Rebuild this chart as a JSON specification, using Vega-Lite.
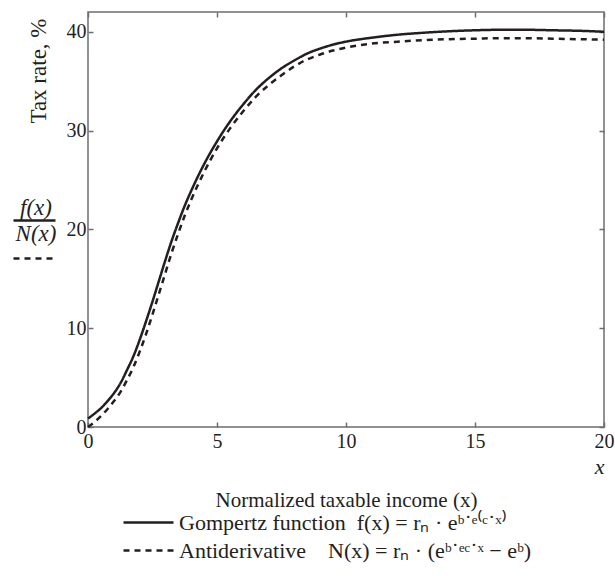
{
  "$schema": "https://vega.github.io/schema/vega-lite/v6.json",
  "width": 516,
  "height": 415,
  "autosize": "none",
  "padding": {"left": 88, "top": 12, "right": 11, "bottom": 149},
  "background": "white",
  "config": {
    "font": "Liberation Serif",
    "view": {"stroke": "#6d6e71", "strokeWidth": 1.5},
    "axis": {
      "domain": false,
      "grid": false,
      "tickColor": "#6d6e71",
      "tickWidth": 1.5,
      "tickSize": -5,
      "labelFont": "Liberation Serif",
      "labelFontSize": 20,
      "labelColor": "#231f20",
      "titleFont": "Liberation Serif",
      "titleFontSize": 21,
      "titleFontWeight": "normal",
      "titleColor": "#231f20",
      "labelOverlap": false,
      "labelFlush": false
    }
  },
  "data": {
    "values": [
      {"x": 0, "y": 0.85, "series": "g", "curve": "Gompertz", "fn": "f(x)"},
      {"x": 0.25, "y": 1.35, "series": "g", "curve": "Gompertz", "fn": "f(x)"},
      {"x": 0.5, "y": 1.9, "series": "g", "curve": "Gompertz", "fn": "f(x)"},
      {"x": 0.75, "y": 2.6, "series": "g", "curve": "Gompertz", "fn": "f(x)"},
      {"x": 1, "y": 3.4, "series": "g", "curve": "Gompertz", "fn": "f(x)"},
      {"x": 1.25, "y": 4.4, "series": "g", "curve": "Gompertz", "fn": "f(x)"},
      {"x": 1.5, "y": 5.7, "series": "g", "curve": "Gompertz", "fn": "f(x)"},
      {"x": 1.75, "y": 7.1, "series": "g", "curve": "Gompertz", "fn": "f(x)"},
      {"x": 2, "y": 8.8, "series": "g", "curve": "Gompertz", "fn": "f(x)"},
      {"x": 2.25, "y": 10.7, "series": "g", "curve": "Gompertz", "fn": "f(x)"},
      {"x": 2.5, "y": 12.7, "series": "g", "curve": "Gompertz", "fn": "f(x)"},
      {"x": 2.75, "y": 14.8, "series": "g", "curve": "Gompertz", "fn": "f(x)"},
      {"x": 3, "y": 16.9, "series": "g", "curve": "Gompertz", "fn": "f(x)"},
      {"x": 3.25, "y": 18.9, "series": "g", "curve": "Gompertz", "fn": "f(x)"},
      {"x": 3.5, "y": 20.7, "series": "g", "curve": "Gompertz", "fn": "f(x)"},
      {"x": 3.75, "y": 22.4, "series": "g", "curve": "Gompertz", "fn": "f(x)"},
      {"x": 4, "y": 23.9, "series": "g", "curve": "Gompertz", "fn": "f(x)"},
      {"x": 4.5, "y": 26.6, "series": "g", "curve": "Gompertz", "fn": "f(x)"},
      {"x": 5, "y": 28.9, "series": "g", "curve": "Gompertz", "fn": "f(x)"},
      {"x": 5.5, "y": 30.9, "series": "g", "curve": "Gompertz", "fn": "f(x)"},
      {"x": 6, "y": 32.6, "series": "g", "curve": "Gompertz", "fn": "f(x)"},
      {"x": 6.5, "y": 34.1, "series": "g", "curve": "Gompertz", "fn": "f(x)"},
      {"x": 7, "y": 35.3, "series": "g", "curve": "Gompertz", "fn": "f(x)"},
      {"x": 7.5, "y": 36.3, "series": "g", "curve": "Gompertz", "fn": "f(x)"},
      {"x": 8, "y": 37.1, "series": "g", "curve": "Gompertz", "fn": "f(x)"},
      {"x": 8.5, "y": 37.8, "series": "g", "curve": "Gompertz", "fn": "f(x)"},
      {"x": 9, "y": 38.3, "series": "g", "curve": "Gompertz", "fn": "f(x)"},
      {"x": 9.5, "y": 38.7, "series": "g", "curve": "Gompertz", "fn": "f(x)"},
      {"x": 10, "y": 39.0, "series": "g", "curve": "Gompertz", "fn": "f(x)"},
      {"x": 11, "y": 39.4, "series": "g", "curve": "Gompertz", "fn": "f(x)"},
      {"x": 12, "y": 39.7, "series": "g", "curve": "Gompertz", "fn": "f(x)"},
      {"x": 13, "y": 39.9, "series": "g", "curve": "Gompertz", "fn": "f(x)"},
      {"x": 14, "y": 40.05, "series": "g", "curve": "Gompertz", "fn": "f(x)"},
      {"x": 15, "y": 40.15, "series": "g", "curve": "Gompertz", "fn": "f(x)"},
      {"x": 16, "y": 40.2, "series": "g", "curve": "Gompertz", "fn": "f(x)"},
      {"x": 17, "y": 40.2, "series": "g", "curve": "Gompertz", "fn": "f(x)"},
      {"x": 18, "y": 40.15, "series": "g", "curve": "Gompertz", "fn": "f(x)"},
      {"x": 19, "y": 40.1, "series": "g", "curve": "Gompertz", "fn": "f(x)"},
      {"x": 20, "y": 40.0, "series": "g", "curve": "Gompertz", "fn": "f(x)"},
      {"x": 0, "y": 0.0, "series": "a", "curve": "Antiderivative", "fn": "N(x)"},
      {"x": 0.25, "y": 0.5, "series": "a", "curve": "Antiderivative", "fn": "N(x)"},
      {"x": 0.5, "y": 1.1, "series": "a", "curve": "Antiderivative", "fn": "N(x)"},
      {"x": 0.75, "y": 1.8, "series": "a", "curve": "Antiderivative", "fn": "N(x)"},
      {"x": 1, "y": 2.6, "series": "a", "curve": "Antiderivative", "fn": "N(x)"},
      {"x": 1.25, "y": 3.5, "series": "a", "curve": "Antiderivative", "fn": "N(x)"},
      {"x": 1.5, "y": 4.7, "series": "a", "curve": "Antiderivative", "fn": "N(x)"},
      {"x": 1.75, "y": 6.0, "series": "a", "curve": "Antiderivative", "fn": "N(x)"},
      {"x": 2, "y": 7.6, "series": "a", "curve": "Antiderivative", "fn": "N(x)"},
      {"x": 2.25, "y": 9.4, "series": "a", "curve": "Antiderivative", "fn": "N(x)"},
      {"x": 2.5, "y": 11.4, "series": "a", "curve": "Antiderivative", "fn": "N(x)"},
      {"x": 2.75, "y": 13.5, "series": "a", "curve": "Antiderivative", "fn": "N(x)"},
      {"x": 3, "y": 15.6, "series": "a", "curve": "Antiderivative", "fn": "N(x)"},
      {"x": 3.25, "y": 17.7, "series": "a", "curve": "Antiderivative", "fn": "N(x)"},
      {"x": 3.5, "y": 19.6, "series": "a", "curve": "Antiderivative", "fn": "N(x)"},
      {"x": 3.75, "y": 21.4, "series": "a", "curve": "Antiderivative", "fn": "N(x)"},
      {"x": 4, "y": 23.0, "series": "a", "curve": "Antiderivative", "fn": "N(x)"},
      {"x": 4.5, "y": 25.8, "series": "a", "curve": "Antiderivative", "fn": "N(x)"},
      {"x": 5, "y": 28.2, "series": "a", "curve": "Antiderivative", "fn": "N(x)"},
      {"x": 5.5, "y": 30.2, "series": "a", "curve": "Antiderivative", "fn": "N(x)"},
      {"x": 6, "y": 31.9, "series": "a", "curve": "Antiderivative", "fn": "N(x)"},
      {"x": 6.5, "y": 33.4, "series": "a", "curve": "Antiderivative", "fn": "N(x)"},
      {"x": 7, "y": 34.6, "series": "a", "curve": "Antiderivative", "fn": "N(x)"},
      {"x": 7.5, "y": 35.6, "series": "a", "curve": "Antiderivative", "fn": "N(x)"},
      {"x": 8, "y": 36.5, "series": "a", "curve": "Antiderivative", "fn": "N(x)"},
      {"x": 8.5, "y": 37.2, "series": "a", "curve": "Antiderivative", "fn": "N(x)"},
      {"x": 9, "y": 37.7, "series": "a", "curve": "Antiderivative", "fn": "N(x)"},
      {"x": 9.5, "y": 38.1, "series": "a", "curve": "Antiderivative", "fn": "N(x)"},
      {"x": 10, "y": 38.4, "series": "a", "curve": "Antiderivative", "fn": "N(x)"},
      {"x": 11, "y": 38.8, "series": "a", "curve": "Antiderivative", "fn": "N(x)"},
      {"x": 12, "y": 39.0, "series": "a", "curve": "Antiderivative", "fn": "N(x)"},
      {"x": 13, "y": 39.15, "series": "a", "curve": "Antiderivative", "fn": "N(x)"},
      {"x": 14, "y": 39.25, "series": "a", "curve": "Antiderivative", "fn": "N(x)"},
      {"x": 15, "y": 39.3, "series": "a", "curve": "Antiderivative", "fn": "N(x)"},
      {"x": 16, "y": 39.35, "series": "a", "curve": "Antiderivative", "fn": "N(x)"},
      {"x": 17, "y": 39.35, "series": "a", "curve": "Antiderivative", "fn": "N(x)"},
      {"x": 18, "y": 39.3, "series": "a", "curve": "Antiderivative", "fn": "N(x)"},
      {"x": 19, "y": 39.25, "series": "a", "curve": "Antiderivative", "fn": "N(x)"},
      {"x": 20, "y": 39.2, "series": "a", "curve": "Antiderivative", "fn": "N(x)"}
    ]
  },
  "layer": [
    {
      "mark": {"type": "line", "color": "#231f20", "interpolate": "monotone"},
      "encoding": {
        "x": {
          "field": "x", "type": "quantitative",
          "scale": {"domain": [0, 20], "nice": false, "zero": false},
          "axis": {
            "orient": "bottom", "values": [0, 5, 10, 15, 20], "format": "d",
            "labelPadding": 9,
            "title": "Normalized taxable income (x)", "titleAnchor": null, "titleAlign": "center",
            "titleBaseline": "middle", "titleX": 258, "titleY": 73
          }
        },
        "y": {
          "field": "y", "type": "quantitative",
          "scale": {"domain": [0, 42], "nice": false, "zero": false},
          "axis": {
            "orient": "left", "values": [0, 10, 20, 30, 40], "format": "d",
            "labelPadding": 7,
            "title": "Tax rate, %", "titleFontSize": 23, "titleAnchor": "end", "titleAlign": "right", "titleBaseline": "middle",
            "titleAngle": -90, "titleX": -50, "titleY": 6
          }
        },
        "strokeDash": {
          "field": "series", "type": "nominal",
          "scale": {"domain": ["g", "a"], "range": [[1, 0], [6, 5]]},
          "legend": {
            "values": ["g"],
            "orient": "none", "legendX": 34, "legendY": 484, "title": null, "padding": 0,
            "symbolType": "stroke", "symbolSize": 2500, "symbolStrokeWidth": 2.5, "symbolStrokeColor": "#231f20",
            "labelFont": "Liberation Serif", "labelFontSize": 22, "labelColor": "#231f20", "labelOffset": 4,
            "labelLimit": 600,
            "labelExpr": "'Gompertz function\u00a0\u00a0f(x) = rₙ · eᵇ˙ᵉ⁽ᶜ˙ˣ⁾'"
          }
        },
        "strokeWidth": {
          "field": "curve", "type": "nominal",
          "scale": {"domain": ["Gompertz", "Antiderivative"], "range": [2.5, 2.5]},
          "legend": {
            "values": ["Antiderivative"],
            "orient": "none", "legendX": 34, "legendY": 512, "title": null, "padding": 0,
            "symbolType": "stroke", "symbolSize": 2500, "symbolStrokeColor": "#231f20", "symbolDash": [6, 5],
            "labelFont": "Liberation Serif", "labelFontSize": 22, "labelColor": "#231f20", "labelOffset": 4,
            "labelLimit": 600,
            "labelExpr": "'Antiderivative\u00a0\u00a0\u00a0\u00a0N(x) = rₙ · (eᵇ˙ᵉᶜ˙ˣ − eᵇ)'"
          }
        },
        "opacity": {
          "field": "fn", "type": "nominal",
          "scale": {"domain": ["f(x)", "N(x)"], "range": [1, 1]},
          "legend": {
            "orient": "none", "legendX": -76, "legendY": 186, "title": null, "padding": 0,
            "symbolType": "stroke", "symbolSize": 1764, "symbolStrokeWidth": 2.5, "symbolStrokeColor": "#231f20",
            "labelFont": "Liberation Serif", "labelFontSize": 23, "labelFontStyle": "italic", "labelColor": "#231f20",
            "labelOffset": 0, "labelAlign": "center", "rowPadding": -4,
            "encode": {
              "labels": {"update": {"dx": {"value": -21}, "dy": {"signal": "datum.index === 0 ? -13 : -25"}}},
              "symbols": {"update": {"strokeDash": {"signal": "datum.index === 1 ? [6, 5] : [1, 0]"}}}
            }
          }
        }
      }
    },
    {
      "mark": {"type": "line", "opacity": 0},
      "encoding": {
        "x": {
          "field": "x", "type": "quantitative",
          "axis": {
            "orient": "top", "values": [0, 5, 10, 15, 20], "labels": false,
            "title": "x", "titleFontStyle": "italic", "titleFontSize": 22, "titleAnchor": null, "titleAlign": "right",
            "titleBaseline": "middle", "titleAngle": 0, "titleX": 516, "titleY": 454
          }
        },
        "y": {
          "field": "y", "type": "quantitative",
          "axis": {"orient": "right", "values": [0, 10, 20, 30, 40], "labels": false, "title": null}
        },
        "detail": {"field": "series"}
      }
    }
  ],
  "resolve": {"axis": {"x": "independent", "y": "independent"}}
}
